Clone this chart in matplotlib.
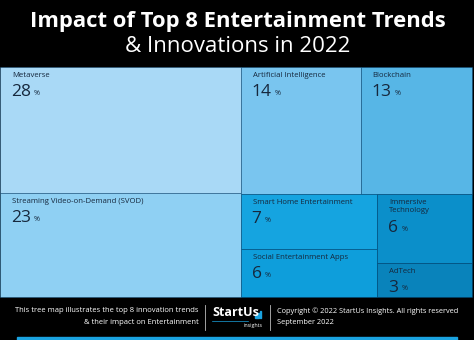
import matplotlib.pyplot as plt
from matplotlib.patches import Rectangle

# Data
names = ["Metaverse", "Streaming Video-on-Demand (SVOD)", "Artificial Intelligence",
         "Blockchain", "Smart Home Entertainment", "Social Entertainment Apps",
         "Immersive\nTechnology", "AdTech"]
values = [28, 23, 14, 13, 7, 6, 6, 3]
colors = ["#a9d9f6", "#8fd0f3", "#79c5ef", "#57b6e6",
          "#15a4e0", "#0e9edb", "#0b8fca", "#0983bb"]

# nesting of the treemap (indices into the lists above)
tree = [[0, 1], [[2, 3], [[4, 5], [6, 7]]]]

TEXT = "#16283d"
plt.rcParams['font.family'] = ['Open Sans', 'DejaVu Sans']


def total(node):
    if isinstance(node, int):
        return values[node]
    return sum(total(c) for c in node)


def layout(node, x, y, w, h, horizontal, out):
    if isinstance(node, int):
        out[node] = (x, y, w, h)
        return
    s = total(node)
    for c in node:
        f = total(c) / s
        if horizontal:
            layout(c, x, y, w * f, h, not horizontal, out)
            x += w * f
        else:
            layout(c, x, y, w, h * f, not horizontal, out)
            y += h * f


fig = plt.figure(figsize=(4.74, 3.4), dpi=100, facecolor="black")
ax = fig.add_axes([0, 0, 1, 1])
ax.set_xlim(0, 474)
ax.set_ylim(340, 0)
ax.axis("off")

rects = {}
layout(tree, 0, 67, 472, 230, True, rects)

for i, (x, y, w, h) in rects.items():
    ax.add_patch(Rectangle((x, y), w, h, facecolor=colors[i],
                           edgecolor=(0.0, 0.25, 0.45, 0.35), linewidth=0.7))
    nlines = names[i].count("\n") + 1
    ax.text(x + 12, y + 5, names[i], fontsize=5.6, color=TEXT,
            va="top", ha="left", linespacing=1.2)
    ny = y + 17 + (nlines - 1) * 9
    t = ax.text(x + 11, ny, str(values[i]), fontsize=12.5, color=TEXT,
                va="top", ha="left")
    ax.annotate("%", xycoords=t, xy=(1, 0.2), xytext=(2, 0),
                textcoords="offset points", fontsize=5.2, color=TEXT,
                va="bottom", ha="left")

# title
ax.text(238, 22, "Impact of Top 8 Entertainment Trends", fontsize=15.8,
        fontweight="bold", color="white", ha="center", va="center")
ax.text(238, 47, "& Innovations in 2022", fontsize=16, color="white",
        ha="center", va="center")

# footer
ax.text(199, 311, "This tree map illustrates the top 8 innovation trends",
        fontsize=5.5, color="white", ha="right", va="center")
ax.text(199, 323, "& their impact on Entertainment",
        fontsize=5.5, color="white", ha="right", va="center")
ax.plot([205, 205], [305, 330], color="#bbbbbb", lw=0.6)
ax.plot([270, 270], [305, 330], color="#bbbbbb", lw=0.6)
ax.text(212, 313, "StartUs", fontsize=9, fontweight="bold", color="white",
        ha="left", va="center")
for k, bh in enumerate([3, 5, 7]):
    ax.add_patch(Rectangle((255 + k * 2.3, 318 - bh), 1.6, bh, color="#1aa3e0"))
ax.plot([212, 248], [321, 321], color="#1aa3e0", lw=0.5)
ax.text(263, 325, "insights", fontsize=3.8, color="white", ha="right", va="center")
ax.text(277, 311, "Copyright \u00a9 2022 StartUs Insights. All rights reserved",
        fontsize=5.3, color="white", ha="left", va="center")
ax.text(277, 323, "September 2022", fontsize=5.3, color="white",
        ha="left", va="center")
ax.add_patch(Rectangle((17, 337), 440, 6, color="#1aa3e0"))

fig.savefig("out.png", dpi=100, facecolor="black")
